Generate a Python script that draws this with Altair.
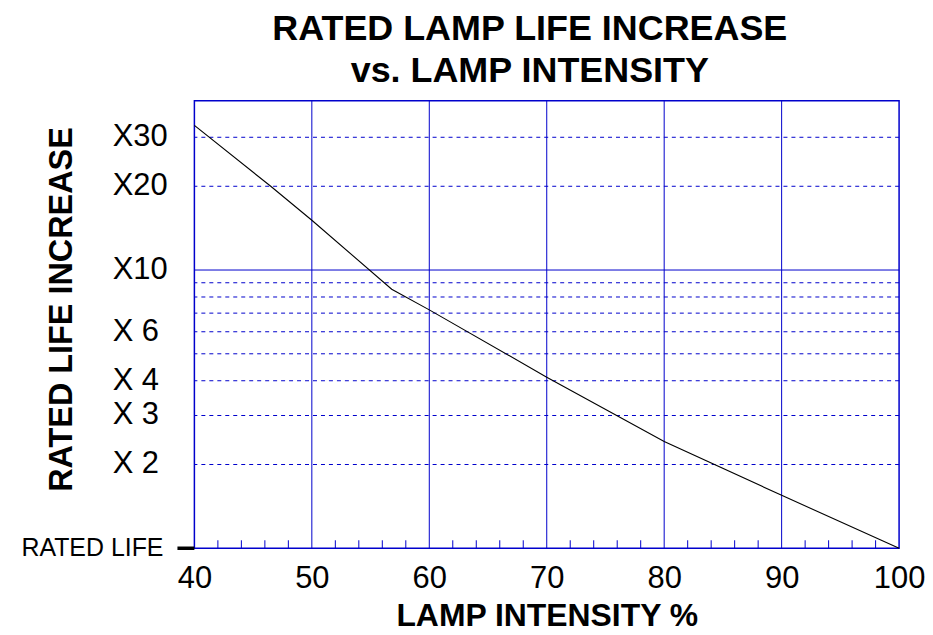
import altair as alt
import pandas as pd

# Data
intensity = [40, 46.5, 50, 56.8, 60, 70, 80, 90, 100]
life_increase = [33.1, 20, 15.1, 8.53, 7.19, 4.12, 2.42, 1.55, 1.0]

x_ticks = [40, 50, 60, 70, 80, 90, 100]
x_grid = [50, 60, 70, 80, 90]
x_minor = [42, 44, 46, 48, 52, 54, 56, 58, 62, 64, 66, 68, 72, 74, 76, 78,
           82, 84, 86, 88, 92, 94, 96, 98]
y_grid_dashed = [2, 3, 4, 5, 6, 7, 8, 9, 20, 30]
y_grid_solid = [10]
y_label_values = [30, 20, 10, 6, 4, 3, 2]
y_label_texts = ["X30", "X20", "X10", "X 6", "X 4", "X 3", "X 2"]
base_value = [1]
base_text = ["RATED LIFE"]

BLUE = "#0000cc"
FONT = "Liberation Sans"

xs = alt.Scale(domain=[40, 100], nice=False, zero=False)
ys = alt.Scale(type="log", domain=[1, 40.6], nice=False)

x_axis = alt.Axis(
    values=x_ticks, grid=False, ticks=False, domain=False, labelFlush=False,
    labelFontSize=31, labelFont=FONT, labelColor="black", labelPadding=15,
    title="LAMP INTENSITY %", titleFontSize=32, titleFont=FONT,
    titleFontWeight="bold", titleColor="black", titlePadding=8)
y_axis = alt.Axis(
    labels=False, ticks=False, domain=False, grid=False,
    title="RATED LIFE INCREASE", titleFontSize=32.5, titleFont=FONT,
    titleFontWeight="bold", titleColor="black",
    titleX=-133, titleY=209, titleAngle=-90,
    titleAlign="center", titleBaseline="middle")


def X(field="x:Q"):
    return alt.X(field, scale=xs, axis=x_axis)


def Y(field="y:Q"):
    return alt.Y(field, scale=ys, axis=y_axis)


line_df = pd.DataFrame({"x": intensity, "y": life_increase})

line = alt.Chart(line_df).mark_line(color="black", strokeWidth=1.1).encode(
    x=X(), y=Y())

vgrid = alt.Chart(pd.DataFrame({"x": x_grid})).mark_rule(
    color=BLUE, strokeWidth=1).encode(x=X())

hdash = alt.Chart(pd.DataFrame({"y": y_grid_dashed})).mark_rule(
    color=BLUE, strokeWidth=1, strokeDash=[4, 4]).encode(y=Y())

hsolid = alt.Chart(pd.DataFrame({"y": y_grid_solid})).mark_rule(
    color=BLUE, strokeWidth=1).encode(y=Y())

minor = alt.Chart(pd.DataFrame({"x": x_minor})).mark_rule(
    color=BLUE, strokeWidth=1).encode(
    x=X(), y=alt.value(449), y2=alt.value(441))

ylabels = alt.Chart(pd.DataFrame({"y": y_label_values, "t": y_label_texts})).mark_text(
    align="left", baseline="middle", fontSize=31, font=FONT, color="black").encode(
    y=Y(), x=alt.value(-82), text="t:N")

base_lbl = alt.Chart(pd.DataFrame({"y": base_value, "t": base_text})).mark_text(
    align="right", baseline="middle", fontSize=25, font=FONT, color="black").encode(
    y=Y(), x=alt.value(-31), text="t:N")

base_tick = alt.Chart(pd.DataFrame({"y": base_value})).mark_rule(
    color="black", strokeWidth=3.5).encode(
    y=Y(), x=alt.value(-17), x2=alt.value(0))

chart = alt.layer(
    vgrid, hdash, hsolid, minor, line, ylabels, base_lbl, base_tick
).properties(
    width=707, height=449,
    background="white",
    autosize=alt.AutoSizeParams(type="none"),
    padding={"left": 187, "top": 92, "right": 26, "bottom": 84},
    title=alt.TitleParams(
        text=["RATED LAMP LIFE INCREASE", "vs. LAMP INTENSITY"],
        fontSize=36, font=FONT, fontWeight="bold", color="black",
        anchor="middle", dx=-17, offset=10, lineHeight=42),
).configure_view(stroke=BLUE, strokeWidth=1.5)

chart.save("out.html", embed_options={"renderer": "svg", "actions": False})
